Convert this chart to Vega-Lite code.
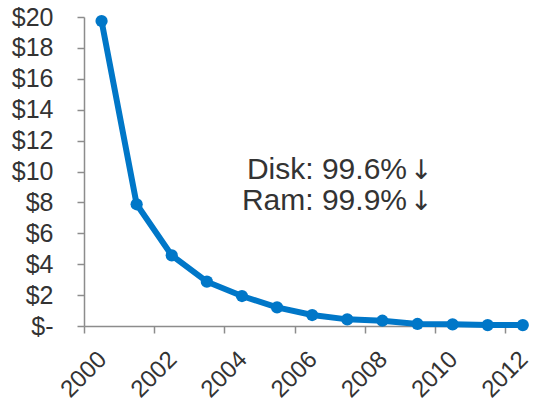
{
  "$schema": "https://vega.github.io/schema/vega-lite/v6.json",
  "autosize": {"type": "none"},
  "width": 443,
  "height": 309,
  "padding": {"left": 84, "top": 17, "right": 10, "bottom": 76},
  "background": "white",
  "config": {
    "view": {"stroke": null},
    "font": "Liberation Sans",
    "axis": {
      "grid": false,
      "domainColor": "#8c8c8c",
      "domainWidth": 1.5,
      "tickColor": "#8c8c8c",
      "tickWidth": 1.5,
      "tickSize": 7,
      "labelFont": "Liberation Sans",
      "labelFontSize": 25,
      "labelColor": "#333333",
      "title": null
    }
  },
  "datasets": {
    "cost": [
      {"year": 2000.5, "price": 19.74},
      {"year": 2001.5, "price": 7.88},
      {"year": 2002.5, "price": 4.57},
      {"year": 2003.5, "price": 2.87},
      {"year": 2004.5, "price": 1.94},
      {"year": 2005.5, "price": 1.21},
      {"year": 2006.5, "price": 0.71},
      {"year": 2007.5, "price": 0.43},
      {"year": 2008.5, "price": 0.34},
      {"year": 2009.5, "price": 0.13},
      {"year": 2010.5, "price": 0.11},
      {"year": 2011.5, "price": 0.06},
      {"year": 2012.5, "price": 0.06}
    ],
    "notes": [
      {"year": 2009.23, "price": 9.53, "label": "Disk: 99.6%", "arrow": "↓"},
      {"year": 2009.23, "price": 7.5, "label": "Ram: 99.9%", "arrow": "↓"}
    ]
  },
  "encoding": {
    "x": {
      "field": "year", "type": "quantitative",
      "scale": {"domain": [2000, 2012.62], "nice": false, "zero": false},
      "axis": {"values": [2000, 2002, 2004, 2006, 2008, 2010, 2012], "format": "d", "labelAngle": -45, "labelFontSize": 24, "labelPadding": 14, "labelOffset": 10, "labelFlush": false, "labelOverlap": false}
    },
    "y": {
      "field": "price", "type": "quantitative",
      "scale": {"domain": [0, 20], "nice": false},
      "axis": {"values": [0, 2, 4, 6, 8, 10, 12, 14, 16, 18, 20], "labelExpr": "datum.value == 0 ? '$-\u00a0\u00a0' : '$' + datum.value", "labelPadding": 24, "labelFlush": false, "labelOverlap": false}
    }
  },
  "layer": [
    {
      "data": {"name": "cost"},
      "mark": {"type": "line", "color": "#0077c8", "strokeWidth": 6, "point": {"filled": true, "size": 150, "color": "#0077c8"}}
    },
    {
      "data": {"name": "notes"},
      "mark": {"type": "text", "font": "Liberation Sans", "fontSize": 30, "color": "#333333", "align": "right", "baseline": "alphabetic", "dx": -1},
      "encoding": {"text": {"field": "label"}}
    },
    {
      "data": {"name": "notes"},
      "mark": {"type": "text", "font": "DejaVu Sans", "fontSize": 27, "color": "#333333", "align": "left", "baseline": "alphabetic", "dx": 2},
      "encoding": {"text": {"field": "arrow"}}
    }
  ]
}
